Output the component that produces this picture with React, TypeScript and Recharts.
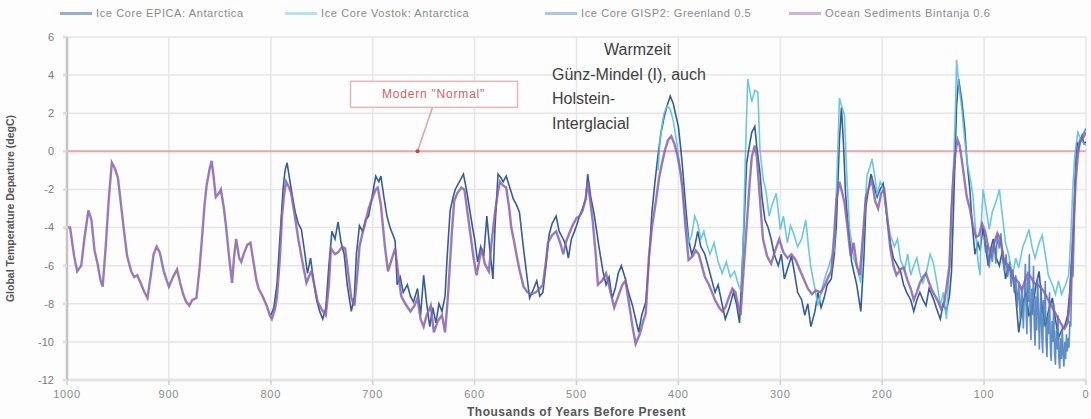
import { LineChart, Line, XAxis, YAxis, CartesianGrid, ReferenceLine, ReferenceDot } from 'recharts';

// [age in kyr before present, temperature departure in degC]
const oceanSediments: [number, number][] = [
  [1000, -4.0], [997, -4.0], [993, -5.5], [990, -6.3], [986, -6.0], [983, -4.6], [979, -3.1], [976, -3.6],
  [973, -5.2], [970, -5.9], [967, -6.8], [965, -7.1], [962, -5.0], [959, -2.5], [956, -0.6], [953, -0.9],
  [950, -1.4], [947, -2.8], [944, -4.2], [941, -5.5], [937, -6.3], [934, -6.6], [931, -6.5], [927, -7.0],
  [924, -7.4], [921, -7.7], [918, -6.6], [915, -5.4], [912, -5.0], [909, -5.3], [905, -6.3], [902, -6.8],
  [900, -7.1], [896, -6.6], [892, -6.2], [889, -6.9], [886, -7.5], [883, -7.9], [880, -8.1], [877, -7.8],
  [873, -7.7], [870, -6.2], [867, -4.2], [865, -2.8], [863, -1.8], [860, -0.9], [858, -0.5], [856, -1.4],
  [854, -2.4], [851, -2.2], [849, -2.0], [846, -3.0], [844, -3.9], [841, -5.5], [838, -6.9], [836, -5.5],
  [834, -4.6], [831, -5.6], [829, -5.8], [826, -5.3], [823, -4.9], [820, -4.8], [817, -5.8], [814, -6.8],
  [812, -7.2], [808, -7.6], [804, -8.1], [801, -8.6], [799, -8.8], [796, -8.3], [794, -7.7], [791, -5.5],
  [789, -3.4], [787, -2.3], [785, -1.6], [782, -1.9], [780, -2.2], [777, -3.2], [773, -4.6], [769, -5.8],
  [765, -6.9], [762, -6.5], [760, -6.3], [757, -7.1], [754, -7.9], [750, -8.3], [746, -8.6], [743, -7.0],
  [741, -5.1], [737, -5.4], [734, -5.3], [730, -5.0], [727, -5.1], [724, -6.4], [721, -7.7], [718, -8.1],
  [715, -6.4], [713, -5.0], [710, -4.3], [708, -3.9], [704, -3.0], [700, -2.4], [697, -2.0], [695, -1.9],
  [692, -2.8], [690, -3.9], [688, -5.0], [685, -6.3], [681, -5.6], [678, -5.1], [675, -6.4], [672, -7.6],
  [668, -8.0], [663, -8.4], [659, -8.1], [656, -7.7], [653, -8.8], [650, -9.2], [647, -8.6], [643, -8.1],
  [640, -9.5], [636, -8.9], [632, -8.6], [629, -9.5], [626, -7.5], [624, -5.7], [622, -4.0], [620, -2.6],
  [617, -2.2], [613, -1.9], [610, -2.0], [607, -3.2], [604, -4.4], [601, -5.6], [598, -6.5], [595, -5.6],
  [593, -5.1], [590, -5.9], [586, -6.3], [583, -4.6], [580, -3.2], [577, -2.1], [575, -1.6], [572, -1.8],
  [569, -1.9], [566, -3.0], [564, -4.0], [561, -4.8], [559, -5.4], [556, -6.2], [552, -7.1], [548, -7.4],
  [544, -7.5], [540, -7.4], [536, -7.2], [533, -7.0], [530, -5.8], [528, -4.8], [524, -4.4], [520, -4.2],
  [516, -4.8], [513, -5.4], [510, -4.7], [507, -4.3], [504, -3.9], [500, -3.5], [497, -3.4], [494, -3.1],
  [491, -2.5], [489, -1.6], [487, -2.4], [484, -3.7], [481, -5.5], [479, -7.0], [475, -6.8], [471, -6.4],
  [467, -7.3], [463, -8.2], [459, -7.6], [455, -7.0], [452, -6.8], [449, -7.8], [445, -9.2], [442, -10.1],
  [438, -9.6], [435, -9.0], [432, -8.5], [429, -5.6], [426, -4.0], [422, -2.6], [419, -1.4], [416, -0.6],
  [413, 0.1], [410, 0.6], [407, 0.8], [404, 0.4], [401, -0.2], [398, -1.1], [396, -2.0], [393, -4.0],
  [390, -5.7], [386, -5.5], [383, -5.2], [380, -5.4], [377, -6.0], [374, -6.6], [370, -7.0], [367, -7.4],
  [364, -7.8], [360, -8.2], [357, -8.4], [354, -8.2], [350, -7.6], [347, -7.2], [344, -7.4], [341, -8.2],
  [339, -8.6], [336, -6.2], [333, -3.9], [330, -1.6], [328, -0.3], [325, 0.3], [323, -0.3], [320, -2.5],
  [317, -4.6], [313, -5.5], [309, -5.9], [305, -5.2], [301, -4.6], [297, -5.3], [293, -5.6], [289, -5.4],
  [285, -5.7], [281, -6.2], [277, -6.7], [273, -7.2], [269, -7.5], [265, -7.3], [260, -7.4], [256, -7.0],
  [253, -6.6], [250, -6.3], [247, -4.3], [245, -2.6], [242, -1.6], [240, -2.0], [237, -2.7], [234, -4.0],
  [231, -5.5], [228, -4.8], [225, -6.0], [222, -6.5], [219, -4.5], [216, -2.4], [213, -1.9], [210, -1.5],
  [207, -2.6], [204, -3.0], [201, -2.2], [198, -2.0], [195, -3.5], [192, -5.1], [189, -6.0], [186, -6.5],
  [182, -6.2], [179, -6.1], [175, -6.8], [172, -7.2], [169, -7.8], [166, -7.4], [163, -6.9], [160, -6.6],
  [157, -6.4], [154, -6.9], [151, -7.3], [148, -7.6], [145, -7.9], [142, -8.3], [139, -7.9], [137, -7.2],
  [134, -6.0], [132, -3.0], [130, -1.2], [128, 0.0], [126, 0.6], [124, 0.3], [122, -0.4], [120, -1.2],
  [117, -2.4], [114, -3.0], [111, -3.9], [108, -4.5], [105, -4.4], [102, -3.8], [99, -4.2], [96, -5.0],
  [93, -5.4], [90, -4.8], [87, -4.3], [84, -4.6], [81, -5.6], [78, -5.9], [75, -6.1], [72, -6.6],
  [69, -6.7], [66, -6.9], [63, -7.3], [60, -6.8], [57, -6.4], [54, -6.6], [51, -6.9], [48, -7.0],
  [45, -7.1], [42, -7.3], [39, -7.6], [36, -7.9], [33, -8.2], [30, -8.5], [27, -8.8], [24, -9.1],
  [21, -9.3], [18, -9.0], [16, -8.0], [14, -6.0], [12, -3.5], [10, -1.5], [8, -0.2], [6, 0.5],
  [4, 0.6], [2, 0.8], [0, 1.0],
];

const epica: [number, number][] = [
  [800, -8.6], [797, -8.2], [794, -7.0], [791, -4.5], [788, -2.0], [786, -1.0], [784, -0.6], [782, -1.3],
  [779, -2.3], [776, -3.2], [773, -3.8], [770, -4.1], [767, -5.2], [764, -6.4], [761, -5.6], [758, -6.8],
  [755, -7.8], [752, -8.4], [749, -8.8], [746, -8.2], [743, -6.0], [740, -4.2], [737, -4.6], [734, -3.7],
  [731, -4.8], [728, -5.4], [725, -7.0], [721, -8.4], [718, -7.6], [716, -5.4], [713, -3.9], [710, -4.2],
  [707, -3.6], [704, -3.4], [700, -2.2], [697, -1.3], [694, -1.6], [692, -1.3], [689, -2.4], [686, -3.4],
  [683, -4.0], [680, -4.4], [678, -4.7], [676, -7.0], [673, -6.6], [670, -7.4], [666, -7.0], [663, -7.6],
  [660, -7.9], [656, -7.2], [653, -8.6], [650, -6.5], [647, -8.0], [644, -9.2], [641, -8.2], [638, -9.0],
  [635, -8.0], [632, -8.4], [629, -7.6], [627, -5.6], [624, -3.1], [621, -2.4], [619, -2.0], [615, -1.6],
  [611, -1.2], [608, -2.0], [605, -3.0], [602, -4.0], [600, -4.6], [597, -5.8], [594, -5.0], [591, -5.5],
  [588, -3.4], [585, -5.2], [582, -6.7], [580, -4.0], [577, -1.2], [574, -1.4], [572, -1.6], [569, -1.3],
  [566, -1.8], [562, -2.5], [559, -2.8], [556, -3.2], [552, -5.1], [549, -6.4], [546, -7.7], [542, -7.2],
  [539, -6.8], [536, -7.6], [533, -7.4], [530, -6.0], [527, -4.4], [524, -3.8], [520, -3.4], [517, -4.2],
  [513, -4.6], [510, -5.0], [508, -5.6], [505, -4.6], [502, -4.2], [500, -3.9], [497, -3.4], [494, -3.0],
  [491, -2.5], [489, -1.2], [486, -2.4], [483, -3.2], [481, -3.9], [478, -5.0], [474, -6.3], [471, -7.0],
  [468, -6.6], [465, -7.7], [462, -7.2], [459, -6.4], [456, -6.0], [452, -6.7], [449, -7.4], [445, -8.1],
  [442, -8.8], [439, -9.5], [436, -8.6], [432, -7.9], [429, -5.8], [426, -3.2], [423, -1.6], [420, -0.2],
  [417, 1.0], [414, 1.8], [411, 2.4], [408, 2.9], [405, 2.5], [403, 2.0], [400, 1.3], [398, 0.3],
  [396, -0.8], [393, -2.8], [390, -4.6], [387, -5.4], [384, -5.0], [381, -4.2], [378, -5.0], [374, -5.4],
  [371, -6.0], [368, -6.6], [364, -7.4], [361, -7.0], [358, -7.8], [354, -8.8], [350, -8.2], [346, -7.4],
  [343, -8.0], [340, -9.0], [337, -5.6], [333, -0.6], [330, 0.4], [328, 1.0], [325, 1.3], [323, 0.2],
  [320, -1.1], [318, -2.4], [315, -3.6], [312, -4.0], [309, -4.6], [306, -5.4], [302, -6.0], [299, -5.4],
  [296, -6.7], [292, -6.0], [289, -5.5], [286, -6.4], [283, -7.4], [279, -7.8], [276, -8.6], [273, -8.0],
  [270, -9.2], [266, -8.4], [263, -7.4], [260, -8.2], [257, -7.7], [254, -7.0], [250, -6.7], [247, -5.4],
  [245, -3.9], [243, -1.0], [242, 0.6], [240, 2.3], [238, 0.4], [236, -2.2], [234, -3.6], [232, -4.6],
  [230, -5.8], [228, -6.3], [225, -7.0], [221, -8.4], [218, -5.6], [216, -2.9], [213, -1.8], [211, -1.2],
  [208, -1.8], [205, -2.4], [202, -2.0], [199, -1.7], [197, -2.6], [195, -3.7], [192, -4.8], [189, -5.6],
  [185, -6.0], [182, -6.3], [179, -7.0], [176, -7.4], [172, -7.8], [169, -8.4], [166, -7.8], [163, -7.4],
  [160, -7.8], [157, -8.1], [154, -7.2], [150, -7.7], [147, -8.2], [143, -8.8], [140, -8.0], [137, -8.4],
  [134, -7.6], [132, -6.3], [130, -3.0], [128, 0.6], [127, 2.4], [125, 3.8], [122, 2.7], [119, 1.2],
  [117, -0.4], [114, -2.0], [112, -3.6], [109, -5.4], [106, -4.8], [104, -5.2], [101, -4.0], [98, -5.2],
  [96, -6.0], [93, -5.0], [91, -4.6], [88, -5.6], [85, -6.0], [82, -5.2], [79, -6.7], [76, -6.0],
  [72, -6.3], [69, -7.6], [66, -9.5], [62, -8.0], [59, -7.4], [56, -8.6], [53, -8.4], [49, -7.0],
  [46, -6.3], [43, -8.2], [40, -9.2], [37, -8.4], [33, -7.7], [30, -8.8], [27, -9.8], [24, -9.4],
  [21, -9.2], [18, -8.6], [16, -7.4], [14, -5.6], [12, -3.9], [11, -1.8], [9, 0.5], [7, 0.2],
  [4, 0.8], [2, 0.4], [0, 0.5],
];

const vostok: [number, number][] = [
  [420, -1.0], [418, 0.6], [416, 1.4], [414, 2.0], [411, 2.4], [408, 2.2], [405, 1.6], [402, 0.6],
  [399, -0.6], [396, -1.8], [393, -3.6], [390, -4.8], [387, -4.4], [384, -3.4], [381, -3.8], [378, -4.6],
  [375, -4.2], [372, -4.9], [369, -5.4], [365, -4.8], [361, -5.8], [357, -6.4], [353, -5.8], [349, -6.6],
  [345, -6.3], [341, -7.0], [338, -7.4], [336, -4.0], [334, 0.2], [332, 3.8], [330, 3.2], [328, 2.6],
  [325, 3.2], [322, 3.1], [320, 0.1], [317, -1.4], [314, -2.1], [311, -3.4], [308, -2.8], [304, -2.2],
  [300, -4.1], [297, -3.4], [293, -4.8], [290, -3.9], [287, -4.3], [283, -5.0], [279, -4.6], [275, -3.6],
  [272, -5.2], [270, -6.1], [266, -7.2], [263, -8.1], [259, -7.2], [256, -6.6], [254, -6.3], [250, -5.6],
  [247, -5.2], [245, -2.2], [243, 1.0], [242, 2.8], [240, 2.4], [237, 1.9], [235, -1.0], [232, -4.1],
  [230, -4.8], [228, -5.6], [224, -6.2], [221, -6.9], [218, -4.0], [215, -1.3], [212, -0.8], [210, -0.4],
  [207, -1.4], [205, -2.3], [202, -1.6], [199, -2.0], [196, -3.2], [192, -4.4], [188, -5.0], [185, -4.6],
  [182, -5.7], [178, -6.2], [175, -5.4], [172, -6.5], [169, -6.0], [166, -5.6], [163, -6.4], [160, -6.9],
  [156, -6.2], [153, -5.4], [150, -5.8], [146, -7.0], [143, -8.1], [140, -7.4], [137, -8.8], [134, -6.0],
  [132, -3.0], [130, -0.8], [128, 2.4], [127, 4.8], [125, 3.6], [122, 2.3], [119, 0.6], [116, -0.8],
  [113, -1.6], [111, -2.3], [108, -4.4], [106, -5.8], [104, -6.5], [103, -4.0], [101, -2.0], [98, -3.0],
  [95, -4.1], [92, -3.2], [88, -2.6], [85, -2.0], [82, -3.4], [79, -4.8], [76, -5.4], [72, -6.5],
  [69, -5.6], [66, -6.1], [62, -5.0], [59, -4.6], [56, -4.1], [53, -5.0], [50, -5.6], [46, -4.8],
  [43, -4.4], [40, -5.4], [37, -6.5], [33, -7.0], [30, -7.5], [27, -6.8], [24, -7.5], [20, -7.0],
  [17, -6.5], [15, -4.6], [13, -2.0], [11, -0.2], [8, 1.0], [5, 0.6], [2, 0.4], [0, 0.3],
];

const gisp2: [number, number][] = [
  [100, -4.5], [98.5, -5.3], [97, -4.9], [95, -6.1], [93.5, -5.2], [92, -5.8], [90, -4.7], [88.5, -5.9],
  [87, -4.4], [85, -5.1], [83.5, -4.3], [82, -5.6], [80, -6.3], [78.5, -5.4], [77, -6.6], [75, -5.8],
  [73.5, -7.1], [72, -6.2], [70.5, -7.4], [69, -6.5], [67.5, -8.2], [66, -6.9], [64.5, -8.8], [63, -7.1],
  [61.5, -9.3], [60.5, -7.6], [59.5, -5.9], [58.7, -8.4], [58, -9.6], [57.2, -6.6], [56.5, -7.9], [55.6, -5.4],
  [54.8, -8.8], [54, -9.9], [53.2, -7.2], [52.4, -8.6], [51.5, -6.0], [50.8, -9.1], [50, -10.2], [49.1, -7.6],
  [48.3, -9.4], [47.5, -6.6], [46.6, -8.3], [45.8, -10.4], [45, -8.8], [44.2, -7.0], [43.3, -9.7], [42.5, -10.6],
  [41.7, -7.8], [40.8, -9.0], [40, -6.8], [39.2, -9.9], [38.3, -10.8], [37.5, -8.6], [36.7, -9.6], [35.8, -7.4],
  [35, -10.2], [34.2, -11.0], [33.3, -8.9], [32.5, -10.0], [31.7, -8.0], [30.8, -10.6], [30, -11.2], [29.2, -9.4],
  [28.3, -10.4], [27.5, -8.6], [26.7, -10.8], [25.8, -11.4], [25, -9.8], [24.2, -10.9], [23.3, -9.2], [22.5, -10.6],
  [21.7, -11.3], [20.8, -10.0], [20, -10.9], [19.2, -9.6], [18.3, -10.5], [17.5, -9.8], [16.7, -10.3], [15.8, -8.9],
  [15, -9.2], [14.2, -7.4], [13.5, -5.6], [12.8, -6.6], [12, -5.0], [11.2, -3.2], [10.5, -1.6], [9.5, -0.4],
  [8, 0.2], [6, 0.6], [4, 0.8], [2, 1.0], [0, 1.2],
];

const xTicks = [1000, 900, 800, 700, 600, 500, 400, 300, 200, 100, 0];
const yTicks = [-12, -10, -8, -6, -4, -2, 0, 2, 4, 6];

const seriesNames = [
  'Ice Core EPICA: Antarctica',
  'Ice Core Vostok: Antarctica',
  'Ice Core GISP2: Greenland 0.5',
  'Ocean Sediments Bintanja 0.6',
];
const seriesColors = ['#1f4d8a', '#5fc0dc', '#4f81bd', '#8763ad'];

const toPoints = (rows: [number, number][]) => rows.map(([age, temp]) => ({ age, temp }));

const FONT = '"Liberation Sans", Arial, sans-serif';

function Callout(props: any) {
  const { cx, cy } = props;
  if (cx == null || cy == null) return null;
  return (
    <g>
      <line x1={cx} y1={cy} x2={cx + 15} y2={cy - 44} stroke="#e3a0a0" strokeWidth={1.5} />
      <circle cx={cx} cy={cy} r={2} fill="#d04040" />
      <rect x={cx - 67} y={cy - 70} width={167} height={26} fill="#fff" stroke="#e8b4b4" strokeWidth={1.5} />
      <text x={cx + 16} y={cy - 53} textAnchor="middle" fontSize={12} fill="#d46060" fontFamily={FONT} letterSpacing={0.8}>
        Modern "Normal"
      </text>
    </g>
  );
}

function Legend() {
  const lefts = [60, 285, 545, 789];
  return (
    <>
      {seriesNames.map((name, i) => (
        <div key={name} style={{ position: 'absolute', left: lefts[i], top: 7, display: 'flex', alignItems: 'center', whiteSpace: 'nowrap' }}>
          <div style={{ width: 32, height: 3, background: seriesColors[i], opacity: 0.45 }} />
          <span style={{ marginLeft: 4, fontSize: 11, color: '#8a8a8a', fontFamily: FONT, letterSpacing: 0.6 }}>{name}</span>
        </div>
      ))}
    </>
  );
}

export default function App() {
  const series = [epica, vostok, gisp2, oceanSediments];
  return (
    <div style={{ position: 'fixed', left: 0, top: 0, width: 1091, height: 419, overflow: 'hidden', background: '#fcfdfc' }}>
      <Legend />
      <LineChart width={1091} height={419} margin={{ top: 37, right: 5, bottom: 9, left: 0 }}>
        <CartesianGrid stroke="#e6e6e6" strokeWidth={1.5} />
        <XAxis
          dataKey="age"
          type="number"
          domain={[0, 1000]}
          reversed
          ticks={xTicks}
          interval={0}
          allowDataOverflow
          height={30}
          stroke="#e4e4e4"
          strokeWidth={3}
          tickLine={{ stroke: '#d0d0d0', strokeWidth: 1.5 }}
          tickSize={5}
          tickMargin={5}
          tick={{ fill: '#8a8a8a', fontSize: 11, fontFamily: FONT, letterSpacing: 0.8 }}
          label={{ value: 'Thousands of Years Before Present', position: 'insideBottom', offset: -6, fill: '#555', fontSize: 12, fontWeight: 'bold', fontFamily: FONT, letterSpacing: 0.5 } as any}
        />
        <YAxis
          type="number"
          domain={[-12, 6]}
          ticks={yTicks}
          interval={0}
          width={67}
          stroke="#c4c4c4"
          strokeWidth={2.5}
          tickLine={{ stroke: '#dcdcdc' }}
          tickSize={4}
          tickMargin={9}
          tick={{ fill: '#7a7a7a', fontSize: 11, fontFamily: FONT }}
          label={{ value: 'Global Temperature Departure (degC)', angle: -90, position: 'insideLeft', offset: 10, fill: '#555', fontSize: 10.5, fontWeight: 'bold', fontFamily: FONT, style: { textAnchor: 'middle' } } as any}
        />
        <ReferenceLine y={0} stroke="#e8a8a8" strokeWidth={2} />
        {series.map((rows, i) => (
          <Line
            key={seriesNames[i]}
            data={toPoints(rows)}
            dataKey="temp"
            name={seriesNames[i]}
            type="linear"
            stroke={seriesColors[i]}
            strokeWidth={i === 3 ? 2.4 : 1.6}
            strokeOpacity={i === 3 ? 0.85 : 0.9}
            dot={false}
            isAnimationActive={false}
          />
        ))}
        <ReferenceDot x={656} y={0} r={0} shape={<Callout />} />
      </LineChart>
      <div style={{ position: 'absolute', left: 552, top: 38, fontFamily: FONT, fontSize: 16, color: '#404040', lineHeight: '24.5px' }}>
        <div style={{ paddingLeft: 52 }}>Warmzeit</div>
        <div>Günz-Mindel (I), auch</div>
        <div>Holstein-</div>
        <div>Interglacial</div>
      </div>
    </div>
  );
}
